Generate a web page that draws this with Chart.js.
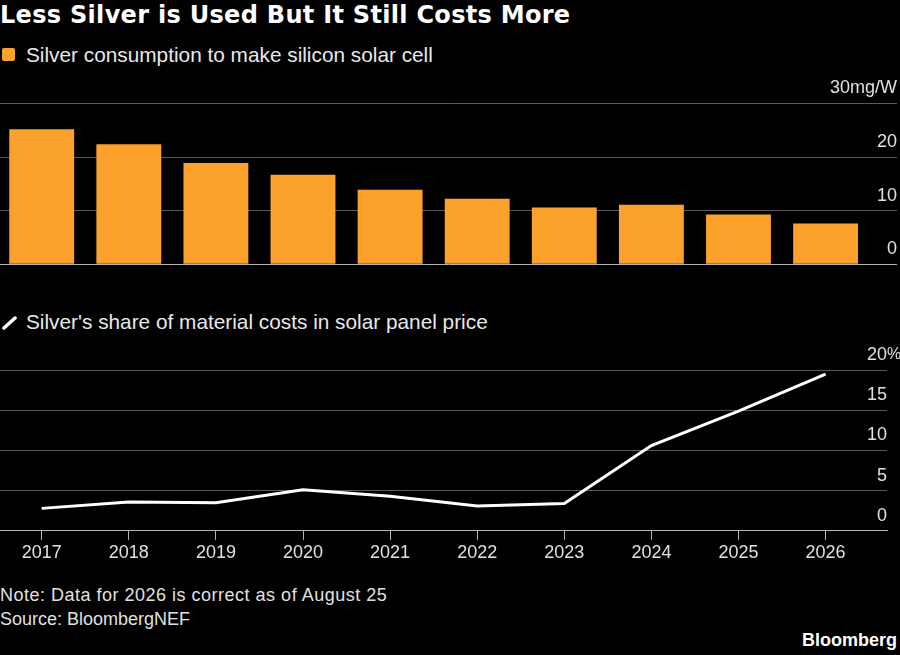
<!DOCTYPE html>
<html>
<head>
<meta charset="utf-8">
<script src="https://cdn.jsdelivr.net/npm/chart.js@4"></script>
<style>
  body { margin: 0; background: #000; width: 900px; height: 655px; overflow: hidden; position: relative; font-family: "Liberation Sans", Arial, sans-serif; color: #e8e8e8; }
  .abs { position: absolute; white-space: nowrap; }
  #title { left: 0; top: 1px; font-family: "DejaVu Sans", sans-serif; font-weight: bold; font-size: 24px; letter-spacing: 0.3px; color: #fff; }
  .legend { left: 26px; font-size: 20.8px; }
  #note, #source { left: 0; font-size: 18px; color: #e0e0e0; }
  #note { letter-spacing: 0.5px; }
  #logo { right: 3px; top: 630px; font-size: 18px; font-weight: bold; color: #fff; }
  canvas { position: absolute; left: 0; }
</style>
</head>
<body>
<div class="abs" id="title">Less Silver is Used But It Still Costs More</div>
<div class="abs" style="left:2px;top:48px;width:13px;height:13px;background:#fba12c;border-radius:2px;"></div>
<div class="abs legend" style="top:43px;">Silver consumption to make silicon solar cell</div>
<svg class="abs" style="left:2px;top:316px;" width="15" height="14"><line x1="2" y1="12" x2="13" y2="2" stroke="#fff" stroke-width="3.5" stroke-linecap="round"/></svg>
<div class="abs legend" style="top:310px;">Silver's share of material costs in solar panel price</div>
<canvas id="chart1" width="900" height="205" style="top:70px;"></canvas>
<canvas id="chart2" width="900" height="240" style="top:340px;"></canvas>
<div class="abs" id="note" style="top:585px;">Note: Data for 2026 is correct as of August 25</div>
<div class="abs" id="source" style="top:609px;">Source: BloombergNEF</div>
<div class="abs" id="logo">Bloomberg</div>
<script>
const years = [2017, 2018, 2019, 2020, 2021, 2022, 2023, 2024, 2025, 2026];
const silverUse = [25.2, 22.4, 18.9, 16.7, 13.9, 12.2, 10.6, 11.1, 9.3, 7.6];
const silverShare = [2.8, 3.6, 3.5, 5.1, 4.3, 3.1, 3.4, 10.6, 14.9, 19.5];
const useTicks = [0, 10, 20, 30];
const shareTicks = [0, 5, 10, 15, 20];

const tickFont = { family: "Liberation Sans", size: 18 };
const gridColor = (c) => (c.tick.value === 0 ? "#b5b5b5" : "#5a5a5a");

const ctx = document.getElementById("chart1");
const myChart = new Chart(ctx, {
  type: "bar",
  data: {
    labels: years,
    datasets: [
      {
        label: "Silver consumption to make silicon solar cell",
        data: silverUse,
        backgroundColor: "#fba12c",
        barPercentage: 0.745,
        categoryPercentage: 1,
      },
    ],
  },
  options: {
    responsive: false,
    animation: false,
    layout: { padding: { top: 33.5, bottom: 10, left: 0, right: 3 } },
    plugins: { legend: { display: false }, tooltip: { enabled: false } },
    scales: {
      x: { type: "linear", min: 2016.521, max: 2026.82, offset: false, display: false },
      y: {
        position: "right",
        min: 0,
        max: 30,
        afterBuildTicks: (s) => { s.ticks = useTicks.map((v) => ({ value: v })); },
        border: { display: false },
        grid: { color: gridColor, drawTicks: false },
        ticks: {
          mirror: true,
          padding: 0,
          labelOffset: -15,
          color: "#e0e0e0",
          font: tickFont,
          callback: (v) => (v === 30 ? "30mg/W" : v),
        },
      },
    },
  },
});

// "%" hangs past the right edge of the top label
const pctPlugin = {
  id: "pct",
  afterDraw(chart) {
    const y = chart.scales.y;
    const c = chart.ctx;
    c.save();
    c.font = "16px 'Liberation Sans'";
    c.fillStyle = "#e0e0e0";
    c.textAlign = "left";
    c.textBaseline = "middle";
    c.fillText("%", chart.chartArea.right, y.getPixelForValue(20) - 15);
    c.restore();
  },
};

const ctx2 = document.getElementById("chart2");
const myChart2 = new Chart(ctx2, {
  type: "line",
  data: {
    labels: years,
    datasets: [
      {
        label: "Silver's share of material costs in solar panel price",
        data: silverShare,
        borderColor: "#ffffff",
        borderWidth: 3,
        pointRadius: 0,
        tension: 0,
      },
    ],
  },
  plugins: [pctPlugin],
  options: {
    responsive: false,
    animation: false,
    layout: { padding: { top: 30, bottom: 14.5, left: 0, right: 13 } },
    plugins: { legend: { display: false }, tooltip: { enabled: false } },
    scales: {
      x: {
        type: "linear",
        min: 2016.521,
        max: 2026.705,
        afterBuildTicks: (s) => { s.ticks = years.map((v) => ({ value: v })); },
        border: { display: true, color: "#b5b5b5" },
        grid: { drawOnChartArea: false, drawTicks: true, tickLength: 9, color: "#b5b5b5" },
        ticks: { color: "#e0e0e0", font: tickFont, padding: 2, maxRotation: 0, callback: (v) => String(v) },
      },
      y: {
        position: "right",
        min: 0,
        max: 20,
        afterBuildTicks: (s) => { s.ticks = shareTicks.map((v) => ({ value: v })); },
        border: { display: false },
        grid: { color: gridColor, drawTicks: false },
        ticks: { mirror: true, padding: 0, labelOffset: -15, color: "#e0e0e0", font: tickFont },
      },
    },
  },
});
</script>
</body>
</html>
